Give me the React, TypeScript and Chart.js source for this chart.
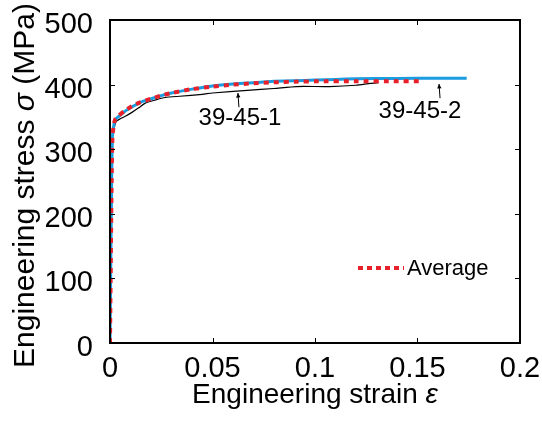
import React, { useEffect, useRef } from "react";
import { Chart, registerables } from "chart.js";

Chart.register(...registerables);

// Specimen 39-45-1 (engineering strain, stress in MPa)
const strain1 = [0, 0.0008, 0.0013, 0.0022, 0.003, 0.005, 0.0075, 0.0107, 0.014, 0.017, 0.022, 0.027, 0.034, 0.045, 0.05, 0.067, 0.08, 0.091, 0.107, 0.12, 0.127, 0.131];
const stress1 = [0, 250, 320, 335, 343, 347, 351, 357, 364, 371, 376, 380, 382, 385, 387, 391, 394, 397, 397, 399, 402, 403];

// Specimen 39-45-2
const strain2 = [0, 0.0008, 0.0012, 0.002, 0.0024, 0.004, 0.007, 0.011, 0.015, 0.02, 0.025, 0.03, 0.04, 0.05, 0.06, 0.07, 0.08, 0.09, 0.1, 0.11, 0.12, 0.14, 0.16, 0.174];
const stress2 = [0, 250, 320, 340, 345, 350, 358, 366, 373, 378, 383, 387, 393, 398, 401, 403, 405, 406, 407, 408, 409, 409.5, 410, 410];

// Average curve
const strainAvg = [0, 0.0008, 0.0012, 0.002, 0.0025, 0.004, 0.007, 0.011, 0.015, 0.02, 0.025, 0.03, 0.04, 0.05, 0.06, 0.07, 0.08, 0.09, 0.1, 0.12, 0.14, 0.152];
const stressAvg = [0, 250, 320, 340, 346, 351, 359, 367, 373, 378, 383, 387, 393, 397, 400, 402, 403.5, 404.5, 405, 405, 405, 405];

const xTicks = [0, 0.05, 0.1, 0.15, 0.2];
const yTicks = [0, 100, 200, 300, 400, 500];

// Specimen labels with arrows: text centre, arrow tail, arrow tip (data units)
const noteText = ["39-45-1", "39-45-2"];
const noteTextAt = [[0.0634, 348], [0.1512, 359]];
const noteTail = [[0.0629, 365], [0.161, 379]];
const noteTip = [[0.0624, 387], [0.1605, 401]];

const legendLabel = "Average";

const FONT = "'Liberation Sans', Arial, Helvetica, sans-serif";
const BLUE = "#1b9be0";
const RED = "#e8202a";

const pts = (xs: number[], ys: number[]) => xs.map((x, i) => ({ x, y: ys[i] }));

const decorPlugin = {
  id: "decor",
  afterDatasetsDraw(chart: any) {
    const { ctx, chartArea: a, scales } = chart;
    const xs = scales.x;
    const ys = scales.y;
    ctx.save();

    // annotations
    ctx.fillStyle = "#000";
    ctx.strokeStyle = "#000";
    ctx.font = `24px ${FONT}`;
    ctx.textAlign = "center";
    ctx.textBaseline = "middle";
    noteText.forEach((t, i) => {
      const tx = xs.getPixelForValue(noteTextAt[i][0]);
      const ty = ys.getPixelForValue(noteTextAt[i][1]);
      ctx.fillText(t, tx, ty);
      const x0 = xs.getPixelForValue(noteTail[i][0]);
      const y0 = ys.getPixelForValue(noteTail[i][1]);
      const x1 = xs.getPixelForValue(noteTip[i][0]);
      const y1 = ys.getPixelForValue(noteTip[i][1]);
      ctx.lineWidth = 1;
      ctx.beginPath();
      ctx.moveTo(x0, y0);
      ctx.lineTo(x1, y1);
      ctx.stroke();
      const ang = Math.atan2(y1 - y0, x1 - x0);
      const h = 5;
      ctx.beginPath();
      ctx.moveTo(x1, y1);
      ctx.lineTo(x1 - h * Math.cos(ang - 0.45), y1 - h * Math.sin(ang - 0.45));
      ctx.lineTo(x1 - h * Math.cos(ang + 0.45), y1 - h * Math.sin(ang + 0.45));
      ctx.closePath();
      ctx.fill();
    });

    // legend entry
    const ly = 268;
    ctx.strokeStyle = RED;
    ctx.lineWidth = 4;
    ctx.setLineDash([5, 4]);
    ctx.beginPath();
    ctx.moveTo(358, ly);
    ctx.lineTo(404, ly);
    ctx.stroke();
    ctx.setLineDash([]);
    ctx.fillStyle = "#000";
    ctx.font = `22px ${FONT}`;
    ctx.textAlign = "left";
    ctx.textBaseline = "alphabetic";
    ctx.fillText(legendLabel, 407, 275);

    // frame and inward ticks
    ctx.strokeStyle = "#000";
    ctx.lineWidth = 2;
    ctx.strokeRect(a.left, a.top, a.right - a.left, a.bottom - a.top);
    ctx.lineWidth = 1;
    const tl = 5;
    xTicks.forEach((v) => {
      const px = Math.round(xs.getPixelForValue(v)) + 0.5;
      ctx.beginPath();
      ctx.moveTo(px, a.bottom);
      ctx.lineTo(px, a.bottom - tl);
      ctx.moveTo(px, a.top);
      ctx.lineTo(px, a.top + tl);
      ctx.stroke();
    });
    yTicks.forEach((v) => {
      const py = Math.round(ys.getPixelForValue(v)) + 0.5;
      ctx.beginPath();
      ctx.moveTo(a.left, py);
      ctx.lineTo(a.left + tl, py);
      ctx.moveTo(a.right, py);
      ctx.lineTo(a.right - tl, py);
      ctx.stroke();
    });

    // axis titles with italic symbols
    const drawParts = (parts: [string, boolean][], size: number) => {
      const widths = parts.map(([t, it]) => {
        ctx.font = `${it ? "italic " : ""}${size}px ${FONT}`;
        return ctx.measureText(t).width;
      });
      const total = widths.reduce((s, w) => s + w, 0);
      let x = -total / 2;
      parts.forEach(([t, it], i) => {
        ctx.font = `${it ? "italic " : ""}${size}px ${FONT}`;
        ctx.fillText(t, x, 0);
        x += widths[i];
      });
    };
    ctx.fillStyle = "#000";
    ctx.textAlign = "left";
    ctx.textBaseline = "alphabetic";

    ctx.save();
    ctx.translate((a.left + a.right) / 2, 403);
    drawParts([["Engineering strain ", false], ["ε", true]], 28);
    ctx.restore();

    ctx.save();
    ctx.translate(34, (a.top + a.bottom) / 2 + 4);
    ctx.rotate(-Math.PI / 2);
    drawParts([["Engineering stress ", false], ["σ", true], [" (MPa)", false]], 30);
    ctx.restore();

    ctx.restore();
  },
};

export default function App() {
  const ref = useRef<HTMLCanvasElement | null>(null);

  useEffect(() => {
    document.body.style.margin = "0";
    const canvas = ref.current;
    if (!canvas) return;
    const chart = new Chart(canvas, {
      type: "line",
      data: {
        datasets: [
          {
            label: "39-45-1",
            data: pts(strain1, stress1),
            borderColor: "#000",
            borderWidth: 1.2,
            pointRadius: 0,
            tension: 0.2,
            order: 3,
          },
          {
            label: "39-45-2",
            data: pts(strain2, stress2),
            borderColor: BLUE,
            borderWidth: 3,
            pointRadius: 0,
            tension: 0.2,
            order: 2,
          },
          {
            label: legendLabel,
            data: pts(strainAvg, stressAvg),
            borderColor: RED,
            borderWidth: 4,
            borderDash: [5, 5],
            pointRadius: 0,
            tension: 0.2,
            order: 1,
          },
        ],
      },
      options: {
        animation: false,
        responsive: false,
        devicePixelRatio: 1,
        parsing: false,
        layout: { padding: { top: 20, right: 22, left: 0, bottom: 0 } },
        plugins: { legend: { display: false }, tooltip: { enabled: false } },
        scales: {
          x: {
            type: "linear",
            min: 0,
            max: 0.2,
            afterBuildTicks: (s: any) => {
              s.ticks = xTicks.map((v) => ({ value: v }));
            },
            afterFit: (s: any) => {
              s.height = 82;
              s.paddingLeft = 0;
              s.paddingRight = 0;
            },
            grid: { display: false, drawTicks: false },
            border: { display: false },
            ticks: {
              color: "#000",
              font: { family: FONT, size: 29 },
              padding: 9,
              maxRotation: 0,
              autoSkip: false,
              callback: (v: any) => String(v),
            },
          },
          y: {
            type: "linear",
            min: 0,
            max: 500,
            afterBuildTicks: (s: any) => {
              s.ticks = yTicks.map((v) => ({ value: v }));
            },
            afterFit: (s: any) => {
              s.width = 110;
              s.paddingTop = 0;
              s.paddingBottom = 0;
            },
            grid: { display: false, drawTicks: false },
            border: { display: false },
            ticks: {
              color: "#000",
              font: { family: FONT, size: 29 },
              padding: 17,
              labelOffset: 5,
              autoSkip: false,
              callback: (v: any) => String(v),
            },
          },
        },
      },
      plugins: [decorPlugin],
    });
    return () => chart.destroy();
  }, []);

  return (
    <div style={{ position: "absolute", left: 0, top: 0, width: 542, height: 425, background: "#fff" }}>
      <canvas ref={ref} width={542} height={425} style={{ width: 542, height: 425, display: "block" }} />
    </div>
  );
}
